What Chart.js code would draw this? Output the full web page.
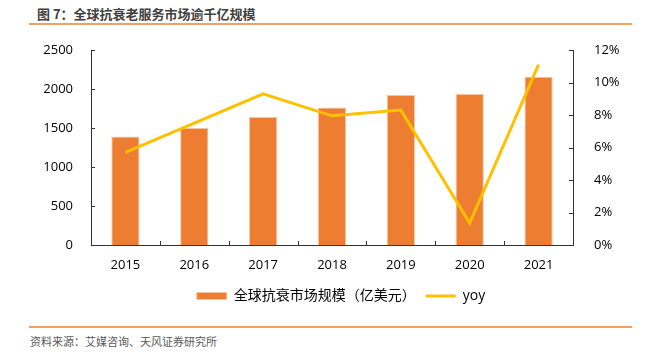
<!DOCTYPE html>
<html>
<head>
<meta charset="utf-8">
<script src="https://cdn.jsdelivr.net/npm/chart.js@4"></script>
<style>
  body { margin: 0; width: 646px; height: 362px; background: #fff; position: relative; overflow: hidden; font-family: 'Noto Sans CJK SC', sans-serif; }
  #title { position: absolute; left: 37px; top: 4px; font-size: 13px; font-weight: bold; color: #404040; }
  .rule { position: absolute; left: 29px; width: 603px; height: 2px; background: #F0A060; }
  #source { position: absolute; left: 30px; top: 333px; font-size: 11px; color: #595959; }
  #wrap { position: absolute; left: 0; top: 0; width: 646px; height: 320px; }
</style>
</head>
<body>
<div id="title">图 7：全球抗衰老服务市场逾千亿规模</div>
<div class="rule" style="top:23px"></div>
<div id="wrap"><canvas id="chart"></canvas></div>
<div class="rule" style="top:326px"></div>
<div id="source">资料来源：艾媒咨询、天风证券研究所</div>
<script>
// 数据
const years = ["2015", "2016", "2017", "2018", "2019", "2020", "2021"];
const marketSize = [1390, 1500, 1640, 1763, 1924, 1937, 2157];
const yoy = [5.7, 7.5, 9.3, 7.95, 8.3, 1.35, 11.1];

Chart.defaults.font.family = "'Open Sans', 'Noto Sans CJK SC', sans-serif";
Chart.defaults.font.size = 13;
Chart.defaults.color = "#000";

// 坐标轴刻度线朝内
const innerTicks = {
    id: "innerTicks",
    afterDraw(chart) {
        const ctx = chart.ctx;
        const x = chart.scales.x, y = chart.scales.y, y1 = chart.scales.y1;
        ctx.save();
        ctx.strokeStyle = "#333";
        ctx.lineWidth = 1;
        ctx.beginPath();
        for (let i = 1; i < years.length; i++) {
            const px = Math.round((x.getPixelForTick(i - 1) + x.getPixelForTick(i)) / 2) + 0.5;
            ctx.moveTo(px, x.top);
            ctx.lineTo(px, x.top - 4);
        }
        y.ticks.forEach((t, i) => {
            const py = Math.round(y.getPixelForTick(i)) + 0.5;
            ctx.moveTo(y.right, py);
            ctx.lineTo(y.right + 4, py);
        });
        y1.ticks.forEach((t, i) => {
            const py = Math.round(y1.getPixelForTick(i)) + 0.5;
            ctx.moveTo(y1.left, py);
            ctx.lineTo(y1.left - 4, py);
        });
        ctx.stroke();
        ctx.restore();
    }
};

new Chart(document.getElementById("chart"), {
    data: {
        labels: years,
        datasets: [
            {
                type: "line",
                label: "yoy",
                data: yoy,
                yAxisID: "y1",
                borderColor: "#FFC000",
                backgroundColor: "#FFC000",
                borderWidth: 3,
                pointRadius: 0,
                tension: 0,
                pointStyle: "line",
                order: 0
            },
            {
                type: "bar",
                label: "全球抗衰市场规模（亿美元）",
                data: marketSize,
                yAxisID: "y",
                backgroundColor: "#ED7D31",
                borderColor: "#F6C4A0",
                borderWidth: 1,
                barPercentage: 0.41,
                categoryPercentage: 1,
                pointStyle: "rect",
                order: 1
            }
        ]
    },
    options: {
        responsive: true,
        maintainAspectRatio: false,
        animation: false,
        layout: { padding: { left: 36, right: 0, top: 50, bottom: 7 } },
        plugins: {
            legend: {
                position: "bottom",
                reverse: true,
                labels: {
                    usePointStyle: true,
                    pointStyleWidth: 30,
                    boxHeight: 7,
                    padding: 10,
                    color: "#000",
                    font: { size: 14 }
                }
            },
            tooltip: { enabled: false }
        },
        scales: {
            x: {
                grid: { display: false },
                border: { display: true, color: "#333" },
                ticks: { padding: 4 },
                afterFit(scale) { scale.height = 34; }
            },
            y: {
                position: "left",
                min: 0,
                max: 2500,
                ticks: { stepSize: 500, padding: 10, callback: v => String(v) },
                grid: { display: false },
                border: { display: true, color: "#333" },
                afterFit(scale) { scale.width = 55; }
            },
            y1: {
                position: "right",
                min: 0,
                max: 12,
                ticks: { stepSize: 2, padding: 13, callback: v => v + "%" },
                grid: { display: false },
                border: { display: true, color: "#333" },
                afterFit(scale) { scale.width = 73; }
            }
        }
    },
    plugins: [innerTicks]
});
</script>
</body>
</html>
